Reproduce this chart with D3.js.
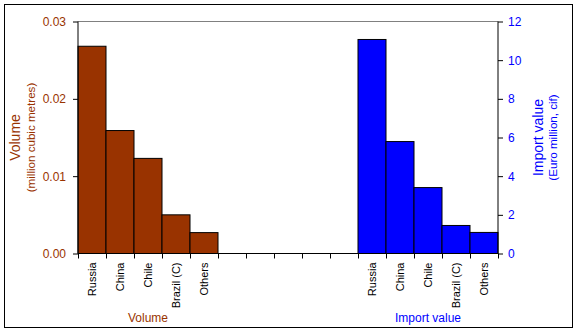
<!DOCTYPE html>
<html><head><meta charset="utf-8">
<script src="https://cdn.jsdelivr.net/npm/d3@7"></script>
<style>body{margin:0;background:#fff}svg{display:block;font-family:Arial,"Liberation Sans",sans-serif}</style>
</head><body><svg id="c" width="577" height="332"></svg>
<script>
const categories = ["Russia","China","Chile","Brazil (C)","Others"];
const volume = [0.0268, 0.0159, 0.0123, 0.0050, 0.0027];
const importValue = [11.07, 5.79, 3.41, 1.45, 1.09];
const volumeTicks = [0, 0.01, 0.02, 0.03];
const valueTicks = [0, 2, 4, 6, 8, 10, 12];
const groupLabels = ["Volume", "Import value"];

const svg = d3.select("#c");
const L = 78, R = 498, T = 21.5, B = 253.5;
const brown = "#993300", blue = "#0000FF", tickBrown = "#993300";

svg.append("rect").attr("x",4.5).attr("y",4.5).attr("width",568).attr("height",323)
  .attr("fill","#fff").attr("stroke","#000").attr("stroke-width",1);

const slots = d3.range(15);
const x = d3.scaleBand().domain(slots).range([L,R]).padding(0);
const yL = d3.scaleLinear().domain([0,0.03]).range([B,T]);
const yR = d3.scaleLinear().domain([0,12]).range([B,T]);

svg.append("line").attr("x1",L).attr("x2",R).attr("y1",T).attr("y2",T).attr("stroke","#808080");

svg.selectAll(".bv").data(volume).enter().append("rect")
  .attr("x",(d,i)=>x(i)).attr("width",x.bandwidth())
  .attr("y",d=>yL(d)).attr("height",d=>B-yL(d))
  .attr("fill",brown).attr("stroke","#000").attr("stroke-width",1);
svg.selectAll(".bi").data(importValue).enter().append("rect")
  .attr("x",(d,i)=>x(i+10)).attr("width",x.bandwidth())
  .attr("y",d=>yR(d)).attr("height",d=>B-yR(d))
  .attr("fill",blue).attr("stroke","#000").attr("stroke-width",1);

const la = svg.append("g").attr("transform",`translate(${L},0)`)
  .call(d3.axisLeft(yL).tickValues(volumeTicks).tickFormat(d3.format(".2f")).tickSize(5).tickPadding(7));
la.select(".domain").attr("stroke","#000").attr("d",`M0,${T}V${B}`);
la.selectAll("text").attr("fill",tickBrown).attr("font-size",12).attr("font-family","Arial, Liberation Sans, sans-serif");
la.selectAll("line").attr("stroke","#000");

const ra = svg.append("g").attr("transform",`translate(${R},0)`)
  .call(d3.axisRight(yR).tickValues(valueTicks).tickSize(5).tickPadding(5));
ra.select(".domain").attr("stroke","#000").attr("d",`M0,${T}V${B}`);
ra.selectAll("text").attr("fill",blue).attr("font-size",12).attr("font-family","Arial, Liberation Sans, sans-serif");
ra.selectAll("line").attr("stroke","#000");

const bx = d3.scaleLinear().domain([0,15]).range([L,R]);
const ba = svg.append("g").attr("transform",`translate(0,${B})`)
  .call(d3.axisBottom(bx).tickValues(d3.range(16)).tickSize(5).tickFormat(""));
ba.select(".domain").attr("stroke","#000").attr("d",`M${L},0H${R}`);
ba.selectAll("line").attr("stroke","#000");

const labs = [];
categories.forEach((c,i)=>{labs.push({c,s:i});labs.push({c,s:i+10});});
svg.selectAll(".cl").data(labs).enter().append("text")
  .attr("transform",d=>`translate(${x(d.s)+x.bandwidth()/2+4},${B+9}) rotate(-90)`)
  .attr("text-anchor","end").attr("font-size",11).attr("fill","#000").text(d=>d.c);

svg.append("text").attr("x",x(2)+x.bandwidth()/2).attr("y",322).attr("text-anchor","middle")
  .attr("font-size",12).attr("fill",tickBrown).text(groupLabels[0]);
svg.append("text").attr("x",x(12)+x.bandwidth()/2).attr("y",322).attr("text-anchor","middle")
  .attr("font-size",12).attr("fill",blue).text(groupLabels[1]);

const cy = (T+B)/2;
svg.append("text").attr("transform",`translate(20,${cy}) rotate(-90)`).attr("text-anchor","middle")
  .attr("font-size",14).attr("fill",tickBrown).text("Volume");
svg.append("text").attr("transform",`translate(35,${cy}) rotate(-90)`).attr("text-anchor","middle")
  .attr("font-size",11.6).attr("fill",tickBrown).text("(million cubic metres)");
svg.append("text").attr("transform",`translate(543,${cy}) rotate(-90)`).attr("text-anchor","middle")
  .attr("font-size",14).attr("fill",blue).text("Import value");
svg.append("text").attr("transform",`translate(557,${cy}) rotate(-90)`).attr("text-anchor","middle")
  .attr("font-size",11.6).attr("fill",blue).text("(Euro million, cif)");
</script></body></html>
